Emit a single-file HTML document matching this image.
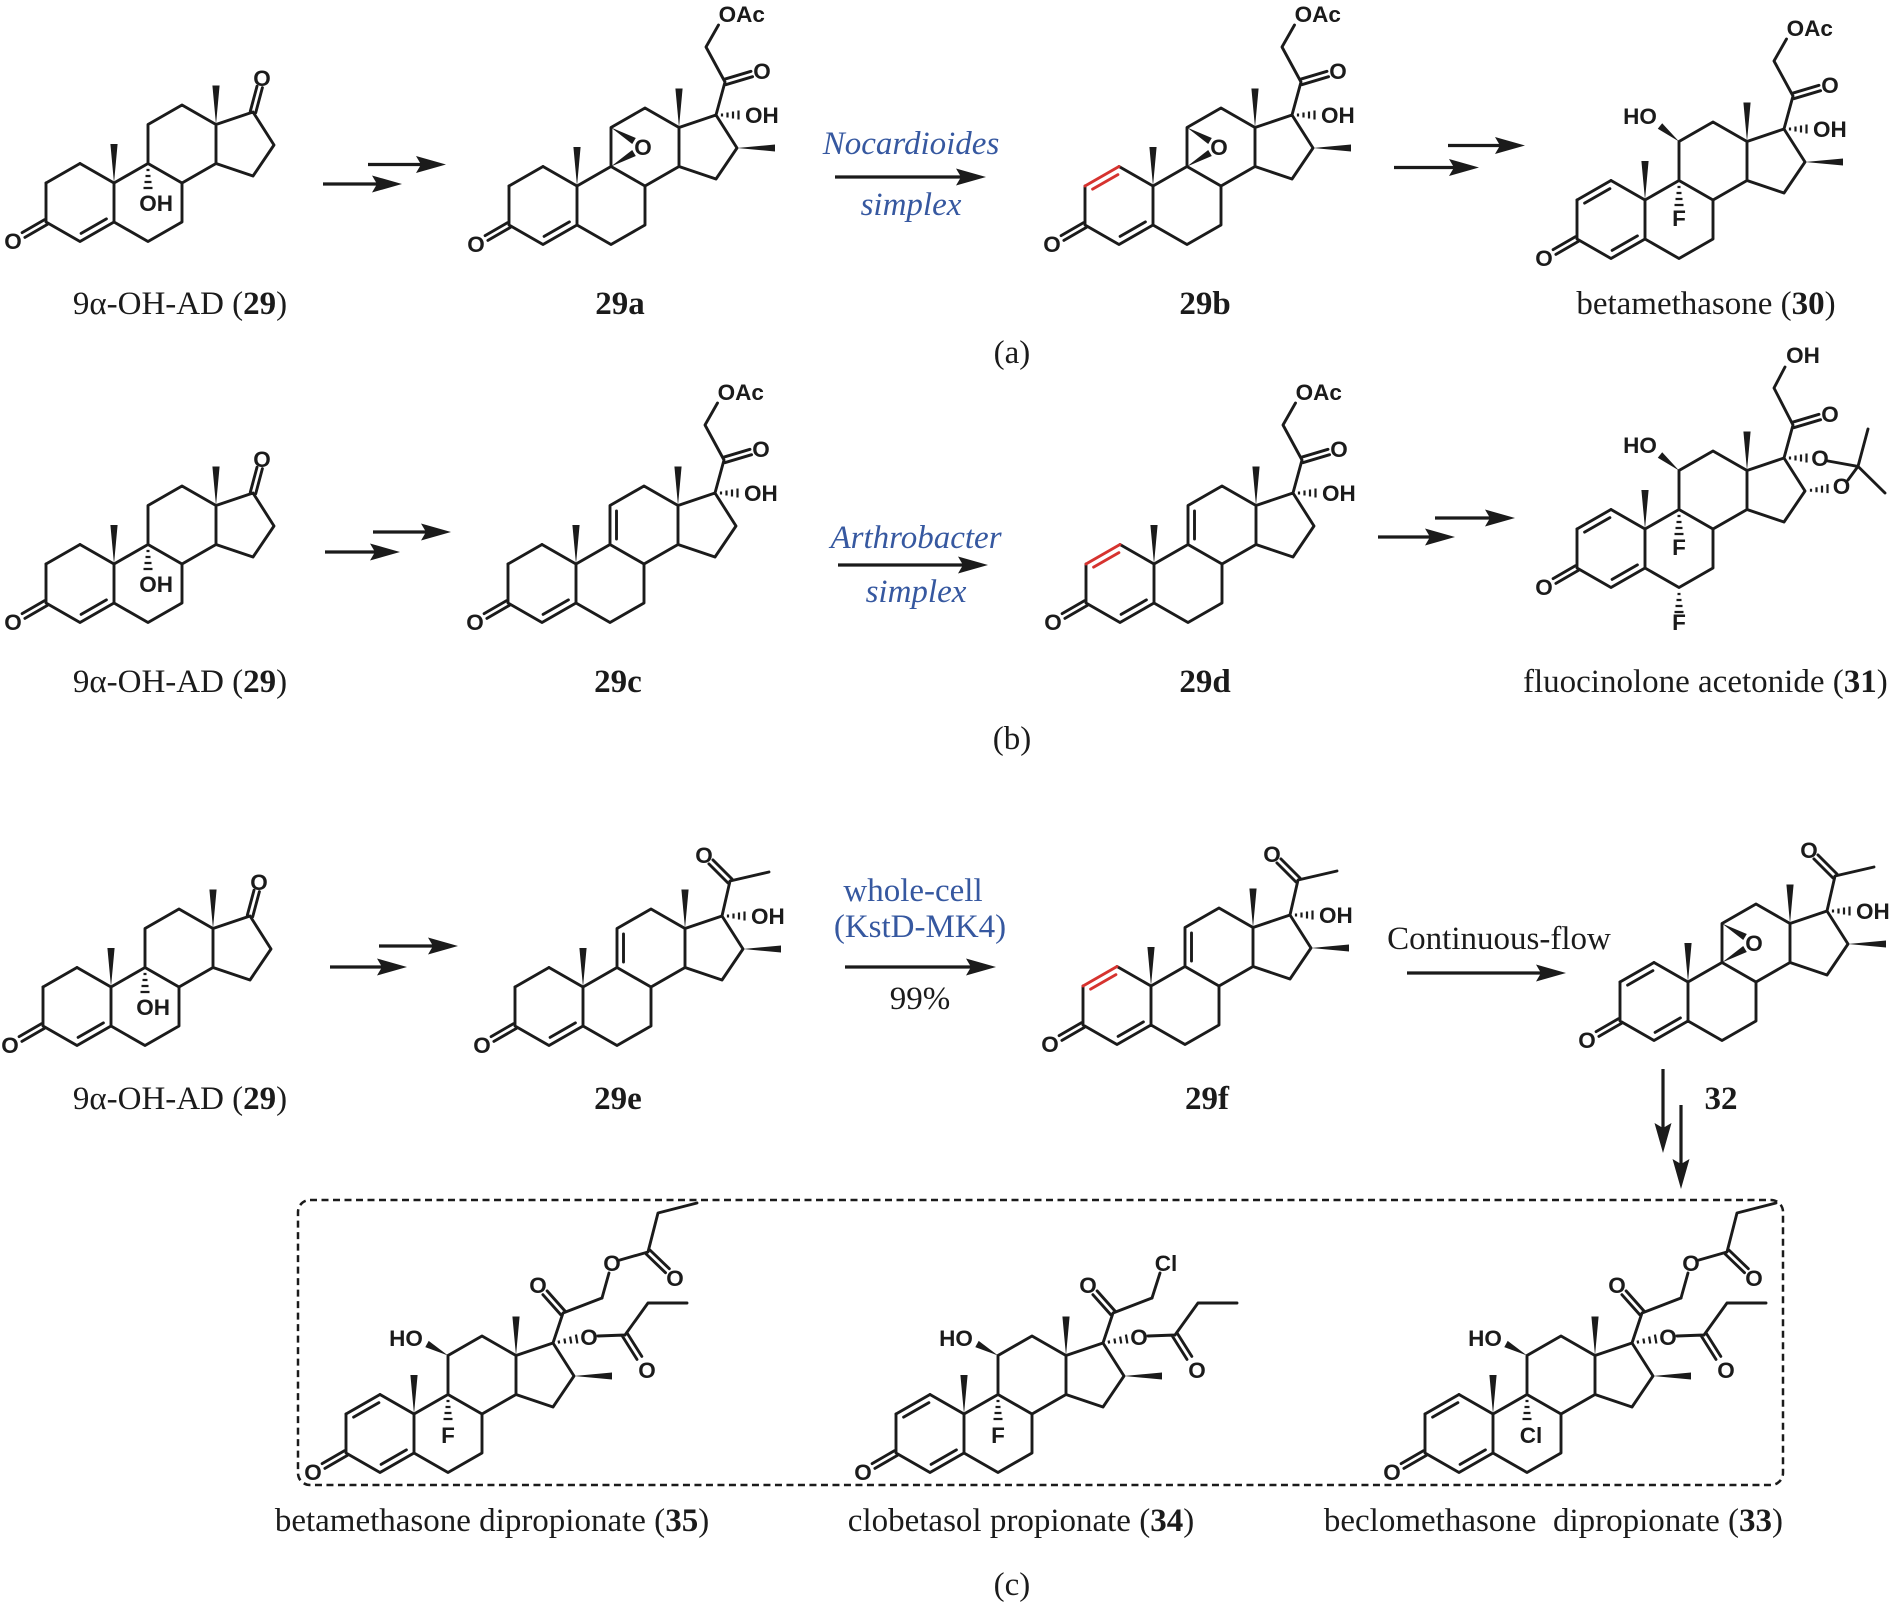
<!DOCTYPE html>
<html><head><meta charset="utf-8">
<style>
body{margin:0;background:#fff}
svg{display:block}
.b{stroke:#1b1b1b;stroke-width:2.9;fill:none;stroke-linejoin:round;stroke-linecap:round}
.red{stroke:#d6332f}
.h{stroke:#1b1b1b;stroke-width:2.2;fill:none}
.w{fill:#1b1b1b;stroke:none}
.ar{stroke:#1b1b1b;stroke-width:3.2;fill:none}
.at{font-family:"Liberation Sans",Arial,sans-serif;font-size:22.5px;font-weight:bold;fill:#1b1b1b;text-anchor:middle}
.st{text-anchor:start}
.cap{font-family:"Liberation Serif","Times New Roman",serif;font-size:33px;fill:#1b1b1b;text-anchor:middle}
.blue{fill:#3658a0}
.it{font-style:italic}
</style></head><body>
<svg width="1890" height="1607" viewBox="0 0 1890 1607" xmlns="http://www.w3.org/2000/svg">
<defs>
<path id="core" d="M-68,0L-68,39L-34,58.5L0,39L0,0L-34,-19.5M0,39L34,58.5L68,39L68,0L34,-19.5L0,0M34,-19.5L34,-58.5L68,-78L102,-58.5L102,-19.5L68,0M102,-58.5L139,-71L160,-38L139,-7L102,-19.5M-32.9,50.4L-7.6,35.9M-66.6,41.4L-89.1,54.4M-69.4,36.6L-91.9,49.6"/>
<g id="mes"><polygon points="0,0 -3.6,-39 3.6,-39"/><polygon points="102,-58.5 98.4,-97.5 105.6,-97.5"/></g>
<path id="b12" d="M-68,0L-34,-19.5"/>
<path id="d1" d="M-60.4,3.1L-35.1,-11.4"/>
<path id="d911" d="M40.5,-25L40.5,-53"/>
<path id="h9" d="M32.5,-13h3M31.5,-7h5M30.5,-1h7M29.5,5h9"/>
<path id="h6" d="M32.5,65h3M31.5,71h5M30.5,77h7M29.5,83h9"/>
<path id="h17" d="M145,-72.5v3M150.5,-73.5v5M156,-74.5v7M161.5,-75.5v9"/>
<path id="h16" d="M166,-40.3v3M171.5,-41.8v5M177,-43.4v7M182.5,-44.9v9"/>
<polygon id="me16" points="160,-38 198,-41.5 198,-34.5"/>
<g id="epox"><polygon points="34,-58.5 55.2,-42 58.8,-48"/><polygon points="34,-19.5 58.8,-30 55.2,-36"/></g>
<polygon id="ho1" points="34,-58.5 17.2,-76.7 12.8,-71.3"/>
<polygon id="ho2" points="34,-58.5 14.7,-73.1 11.3,-66.9"/>
<path id="scoac" d="M139,-71L148,-104L129,-139L141.5,-161M148.8,-101.3L175.6,-109.3M147.2,-106.7L174,-114.7"/>
<path id="scoh" d="M139,-71L148,-104L129,-141L140,-162M148.8,-101.3L175.6,-109.3M147.2,-106.7L174,-114.7"/>
<path id="scac" d="M139,-71L147,-106L186,-115M149,-108L129.9,-127.1M145,-104L125.9,-123.1"/>
<path id="scdp" d="M139,-71L149,-101L188,-116M151.1,-102.9L133.1,-123.1M146.9,-99.1L128.9,-119.3M184,-78L211,-79L234,-111L273,-111M213.4,-80.5L227.8,-57.6M208.6,-77.5L223,-54.6"/>
<path id="h17o" d="M145.2,-70.5L144.6,-73.5M151.2,-70.5L150.4,-75.5M157.3,-70.5L156.1,-77.4M163.4,-70.5L161.9,-79.4"/>
<path id="est21" d="M188,-116L195,-141M206,-154L234,-162L244,-201L283,-211M235.9,-164L255.3,-145.3M232.1,-160L251.5,-141.3"/>
<path id="cl21" d="M188,-116L196,-141"/>
<path id="acet" d="M183,-68L213,-62.6L223,-100M203,-49L213,-62.6L240,-36"/>
<path id="ah" d="M0,0L-30,-8.5L-25,0L-30,8.5Z"/>
</defs>

<!-- ===== Row (a) ===== -->
<g transform="translate(114,183)">
<use href="#core" class="b"/><use href="#b12" class="b"/><use href="#mes" class="w"/><use href="#h9" class="h"/>
<path class="b" d="M141.7,-70.3L148.4,-95.4M136.3,-71.7L143,-96.8"/>
<text class="at" x="148" y="-97">O</text>
<text class="at" x="-101" y="66">O</text>
<text class="at st" x="25.2" y="28">OH</text>
</g>

<g transform="translate(577,186)">
<use href="#core" class="b"/><use href="#b12" class="b"/><use href="#mes" class="w"/>
<use href="#epox" class="w"/><use href="#scoac" class="b"/><use href="#h17" class="h"/><use href="#me16" class="w"/>
<text class="at" x="-101" y="66">O</text>
<text class="at" x="66" y="-31">O</text>
<text class="at" x="185" y="-107">O</text>
<text class="at st" x="141.6" y="-164">OAc</text>
<text class="at st" x="168" y="-63">OH</text>
</g>

<g transform="translate(1153,186)">
<use href="#core" class="b"/><use href="#b12" class="b red"/><use href="#d1" class="b red"/><use href="#mes" class="w"/>
<use href="#epox" class="w"/><use href="#scoac" class="b"/><use href="#h17" class="h"/><use href="#me16" class="w"/>
<text class="at" x="-101" y="66">O</text>
<text class="at" x="66" y="-31">O</text>
<text class="at" x="185" y="-107">O</text>
<text class="at st" x="141.6" y="-164">OAc</text>
<text class="at st" x="168" y="-63">OH</text>
</g>

<g transform="translate(1645,200)">
<use href="#core" class="b"/><use href="#b12" class="b"/><use href="#d1" class="b"/><use href="#mes" class="w"/>
<use href="#h9" class="h"/><use href="#ho1" class="w"/>
<use href="#scoac" class="b"/><use href="#h17" class="h"/><use href="#me16" class="w"/>
<text class="at" x="-101" y="66">O</text>
<text class="at" x="34" y="26">F</text>
<text class="at" x="-5" y="-76">HO</text>
<text class="at" x="185" y="-107">O</text>
<text class="at st" x="141.6" y="-164">OAc</text>
<text class="at st" x="168" y="-63">OH</text>
</g>

<!-- arrows row a -->
<line class="ar" x1="368" y1="164.5" x2="424" y2="164.5"/><use href="#ah" class="w" transform="translate(446,164.5)"/>
<line class="ar" x1="323" y1="184" x2="380" y2="184"/><use href="#ah" class="w" transform="translate(402,184)"/>
<line class="ar" x1="835" y1="177" x2="964" y2="177"/><use href="#ah" class="w" transform="translate(986,177)"/>
<line class="ar" x1="1448" y1="145.5" x2="1503" y2="145.5"/><use href="#ah" class="w" transform="translate(1525,145.5)"/>
<line class="ar" x1="1394" y1="167.5" x2="1457" y2="167.5"/><use href="#ah" class="w" transform="translate(1479,167.5)"/>

<text class="cap blue it" x="911" y="154">Nocardioides</text>
<text class="cap blue it" x="911" y="215">simplex</text>

<text class="cap" x="180" y="314">9α-OH-AD (<tspan font-weight="bold">29</tspan>)</text>
<text class="cap" x="620" y="314" font-weight="bold">29a</text>
<text class="cap" x="1205" y="314" font-weight="bold">29b</text>
<text class="cap" x="1706" y="314">betamethasone (<tspan font-weight="bold">30</tspan>)</text>
<text class="cap" x="1012" y="363">(a)</text>

<!-- ===== Row (b) ===== -->
<g transform="translate(114,564)">
<use href="#core" class="b"/><use href="#b12" class="b"/><use href="#mes" class="w"/><use href="#h9" class="h"/>
<path class="b" d="M141.7,-70.3L148.4,-95.4M136.3,-71.7L143,-96.8"/>
<text class="at" x="148" y="-97">O</text>
<text class="at" x="-101" y="66">O</text>
<text class="at st" x="25.2" y="28">OH</text>
</g>

<g transform="translate(576,564)">
<use href="#core" class="b"/><use href="#b12" class="b"/><use href="#d911" class="b"/><use href="#mes" class="w"/>
<use href="#scoac" class="b"/><use href="#h17" class="h"/>
<text class="at" x="-101" y="66">O</text>
<text class="at" x="185" y="-107">O</text>
<text class="at st" x="141.6" y="-164">OAc</text>
<text class="at st" x="168" y="-63">OH</text>
</g>

<g transform="translate(1154,564)">
<use href="#core" class="b"/><use href="#b12" class="b red"/><use href="#d1" class="b red"/><use href="#d911" class="b"/><use href="#mes" class="w"/>
<use href="#scoac" class="b"/><use href="#h17" class="h"/>
<text class="at" x="-101" y="66">O</text>
<text class="at" x="185" y="-107">O</text>
<text class="at st" x="141.6" y="-164">OAc</text>
<text class="at st" x="168" y="-63">OH</text>
</g>

<g transform="translate(1645,529)">
<use href="#core" class="b"/><use href="#b12" class="b"/><use href="#d1" class="b"/><use href="#mes" class="w"/>
<use href="#h9" class="h"/><use href="#h6" class="h"/><use href="#ho1" class="w"/>
<use href="#scoh" class="b"/><use href="#h17" class="h"/><use href="#h16" class="h"/><use href="#acet" class="b"/>
<text class="at" x="-101" y="66">O</text>
<text class="at" x="34" y="26">F</text>
<text class="at" x="34" y="101">F</text>
<text class="at" x="-5" y="-76">HO</text>
<text class="at" x="185" y="-107">O</text>
<text class="at" x="158" y="-166">OH</text>
<text class="at" x="175" y="-63">O</text>
<text class="at" x="196.5" y="-35">O</text>
</g>

<!-- arrows row b -->
<line class="ar" x1="373" y1="532" x2="429" y2="532"/><use href="#ah" class="w" transform="translate(451,532)"/>
<line class="ar" x1="325" y1="552" x2="378" y2="552"/><use href="#ah" class="w" transform="translate(400,552)"/>
<line class="ar" x1="838" y1="565" x2="966" y2="565"/><use href="#ah" class="w" transform="translate(988,565)"/>
<line class="ar" x1="1435" y1="518" x2="1493" y2="518"/><use href="#ah" class="w" transform="translate(1515,518)"/>
<line class="ar" x1="1378" y1="537" x2="1433" y2="537"/><use href="#ah" class="w" transform="translate(1455,537)"/>

<text class="cap blue it" x="916" y="548">Arthrobacter</text>
<text class="cap blue it" x="916" y="602">simplex</text>

<text class="cap" x="180" y="692">9α-OH-AD (<tspan font-weight="bold">29</tspan>)</text>
<text class="cap" x="618" y="692" font-weight="bold">29c</text>
<text class="cap" x="1205" y="692" font-weight="bold">29d</text>
<text class="cap" x="1523" y="692" style="text-anchor:start">fluocinolone acetonide (<tspan font-weight="bold">31</tspan>)</text>
<text class="cap" x="1012" y="749">(b)</text>

<!-- ===== Row (c) ===== -->
<g transform="translate(111,987)">
<use href="#core" class="b"/><use href="#b12" class="b"/><use href="#mes" class="w"/><use href="#h9" class="h"/>
<path class="b" d="M141.7,-70.3L148.4,-95.4M136.3,-71.7L143,-96.8"/>
<text class="at" x="148" y="-97">O</text>
<text class="at" x="-101" y="66">O</text>
<text class="at st" x="25.2" y="28">OH</text>
</g>

<g transform="translate(583,987)">
<use href="#core" class="b"/><use href="#b12" class="b"/><use href="#d911" class="b"/><use href="#mes" class="w"/>
<use href="#scac" class="b"/><use href="#h17" class="h"/><use href="#me16" class="w"/>
<text class="at" x="-101" y="66">O</text>
<text class="at" x="121" y="-124">O</text>
<text class="at st" x="168" y="-63">OH</text>
</g>

<g transform="translate(1151,986)">
<use href="#core" class="b"/><use href="#b12" class="b red"/><use href="#d1" class="b red"/><use href="#d911" class="b"/><use href="#mes" class="w"/>
<use href="#scac" class="b"/><use href="#h17" class="h"/><use href="#me16" class="w"/>
<text class="at" x="-101" y="66">O</text>
<text class="at" x="121" y="-124">O</text>
<text class="at st" x="168" y="-63">OH</text>
</g>

<g transform="translate(1688,982)">
<use href="#core" class="b"/><use href="#b12" class="b"/><use href="#d1" class="b"/><use href="#mes" class="w"/>
<use href="#epox" class="w"/><use href="#scac" class="b"/><use href="#h17" class="h"/><use href="#me16" class="w"/>
<text class="at" x="-101" y="66">O</text>
<text class="at" x="66" y="-31">O</text>
<text class="at" x="121" y="-124">O</text>
<text class="at st" x="168" y="-63">OH</text>
</g>

<!-- arrows row c -->
<line class="ar" x1="379" y1="946" x2="436" y2="946"/><use href="#ah" class="w" transform="translate(458,946)"/>
<line class="ar" x1="330" y1="967" x2="385" y2="967"/><use href="#ah" class="w" transform="translate(407,967)"/>
<line class="ar" x1="845" y1="967" x2="974" y2="967"/><use href="#ah" class="w" transform="translate(996,967)"/>
<line class="ar" x1="1407" y1="973" x2="1544" y2="973"/><use href="#ah" class="w" transform="translate(1566,973)"/>
<line class="ar" x1="1663" y1="1069" x2="1663" y2="1131"/><use href="#ah" class="w" transform="translate(1663,1153) rotate(90)"/>
<line class="ar" x1="1681" y1="1105" x2="1681" y2="1167"/><use href="#ah" class="w" transform="translate(1681,1189) rotate(90)"/>

<text class="cap blue" x="913" y="901">whole-cell</text>
<text class="cap blue" x="920" y="937">(KstD-MK4)</text>
<text class="cap" x="920" y="1009">99%</text>
<text class="cap" x="1499" y="949">Continuous-flow</text>

<text class="cap" x="180" y="1109">9α-OH-AD (<tspan font-weight="bold">29</tspan>)</text>
<text class="cap" x="618" y="1109" font-weight="bold">29e</text>
<text class="cap" x="1207" y="1109" font-weight="bold">29f</text>
<text class="cap" x="1721" y="1109" font-weight="bold">32</text>

<!-- ===== Box ===== -->
<rect x="298" y="1200" width="1485" height="285" rx="12" fill="none" stroke="#1b1b1b" stroke-width="2.5" stroke-dasharray="7 4.5"/>

<g transform="translate(414,1414)">
<use href="#core" class="b"/><use href="#b12" class="b"/><use href="#d1" class="b"/><use href="#mes" class="w"/>
<use href="#h9" class="h"/><use href="#ho2" class="w"/><use href="#me16" class="w"/>
<use href="#scdp" class="b"/><use href="#h17o" class="h"/><use href="#est21" class="b"/>
<text class="at" x="-101" y="66">O</text>
<text class="at" x="34" y="29">F</text>
<text class="at" x="-8" y="-68">HO</text>
<text class="at" x="124" y="-121">O</text>
<text class="at" x="175" y="-69">O</text>
<text class="at" x="233" y="-36">O</text>
<text class="at" x="198" y="-143">O</text>
<text class="at" x="261" y="-128">O</text>
</g>

<g transform="translate(964,1414)">
<use href="#core" class="b"/><use href="#b12" class="b"/><use href="#d1" class="b"/><use href="#mes" class="w"/>
<use href="#h9" class="h"/><use href="#ho2" class="w"/><use href="#me16" class="w"/>
<use href="#scdp" class="b"/><use href="#h17o" class="h"/><use href="#cl21" class="b"/>
<text class="at" x="-101" y="66">O</text>
<text class="at" x="34" y="29">F</text>
<text class="at" x="-8" y="-68">HO</text>
<text class="at" x="124" y="-121">O</text>
<text class="at" x="175" y="-69">O</text>
<text class="at" x="233" y="-36">O</text>
<text class="at" x="202" y="-143">Cl</text>
</g>

<g transform="translate(1493,1414)">
<use href="#core" class="b"/><use href="#b12" class="b"/><use href="#d1" class="b"/><use href="#mes" class="w"/>
<use href="#h9" class="h"/><use href="#ho2" class="w"/><use href="#me16" class="w"/>
<use href="#scdp" class="b"/><use href="#h17o" class="h"/><use href="#est21" class="b"/>
<text class="at" x="-101" y="66">O</text>
<text class="at" x="38" y="29">Cl</text>
<text class="at" x="-8" y="-68">HO</text>
<text class="at" x="124" y="-121">O</text>
<text class="at" x="175" y="-69">O</text>
<text class="at" x="233" y="-36">O</text>
<text class="at" x="198" y="-143">O</text>
<text class="at" x="261" y="-128">O</text>
</g>

<text class="cap" x="492" y="1531">betamethasone dipropionate (<tspan font-weight="bold">35</tspan>)</text>
<text class="cap" x="1021" y="1531">clobetasol propionate (<tspan font-weight="bold">34</tspan>)</text>
<text class="cap" x="1783" y="1531" style="text-anchor:end">beclomethasone&#160; dipropionate (<tspan font-weight="bold">33</tspan>)</text>
<text class="cap" x="1012" y="1595">(c)</text>
</svg>
</body></html>
